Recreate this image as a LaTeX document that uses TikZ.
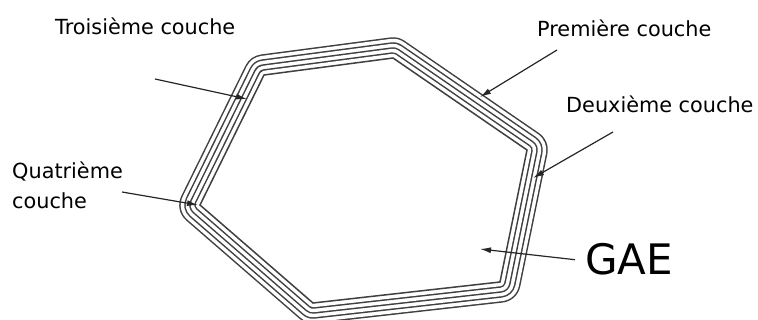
\documentclass[tikz,border=0pt]{standalone}
\usepackage{fontspec}
\setmainfont{DejaVu Sans}
\usetikzlibrary{arrows.meta}

\begin{document}
\begin{tikzpicture}[
    x=1pt, y=-1pt,
    layer/.style={line join=round, draw=black!75},
    gap/.style={line join=round, draw=white},
    txt/.style={anchor=base west, inner sep=0pt, font=\fontsize{20.8}{30}\selectfont, align=left},
    arrow/.style={-{Latex[length=11pt,width=6pt]}, line width=1.2pt, draw=black!85}
]
    \useasboundingbox (0,0) rectangle (758,320);

    % Inner boundary of the GAE
    \coordinate (p1) at (264,75);
    \coordinate (p2) at (393,58);
    \coordinate (p3) at (527,150);
    \coordinate (p4) at (500,282);
    \coordinate (p5) at (313,303);
    \coordinate (p6) at (200,205);

    % Layers
    \foreach \d in {20,15,10,5} {
        \draw[layer, line width={(2*\d+1.5)*1pt}] (p1) -- (p2) -- (p3) -- (p4) -- (p5) -- (p6) -- cycle;
        \draw[gap, line width={(2*\d-1.5)*1pt}] (p1) -- (p2) -- (p3) -- (p4) -- (p5) -- (p6) -- cycle;
    }
    \fill[white] (p1) -- (p2) -- (p3) -- (p4) -- (p5) -- (p6) -- cycle;
    \draw[draw=black!75, line width=1.5pt] (p1) -- (p2) -- (p3) -- (p4) -- (p5) -- (p6) -- cycle;

    % Labels
    \node[txt] (troisieme) at (55,35) {Troisième couche};
    \node[txt] (premiere) at (537,37) {Première couche};
    \node[txt] (deuxieme) at (566,113) {Deuxième couche};
    \node[txt] (quatrieme) at (12,209) {Quatrième\\couche};
    \node[txt, font=\fontsize{42}{50}\selectfont] (gae) at (585,275) {GAE};

    % Arrow ends
    \coordinate (troisieme_tail) at (155,79);
    \coordinate (troisieme_tip) at (247,99);
    \coordinate (premiere_tail) at (557,50);
    \coordinate (premiere_tip) at (480,97);
    \coordinate (deuxieme_tail) at (613,132);
    \coordinate (deuxieme_tip) at (533,178);
    \coordinate (quatrieme_tail) at (122,192);
    \coordinate (quatrieme_tip) at (198,205);
    \coordinate (gae_tip) at (480,249);

    % Arrows
    \draw[arrow] (troisieme_tail) -- (troisieme_tip);
    \draw[arrow] (premiere_tail) -- (premiere_tip);
    \draw[arrow] (deuxieme_tail) -- (deuxieme_tip);
    \draw[arrow] (quatrieme_tail) -- (quatrieme_tip);
    \draw[arrow] ([xshift=-10pt]gae.west) -- (gae_tip);

\end{tikzpicture}
\end{document}
